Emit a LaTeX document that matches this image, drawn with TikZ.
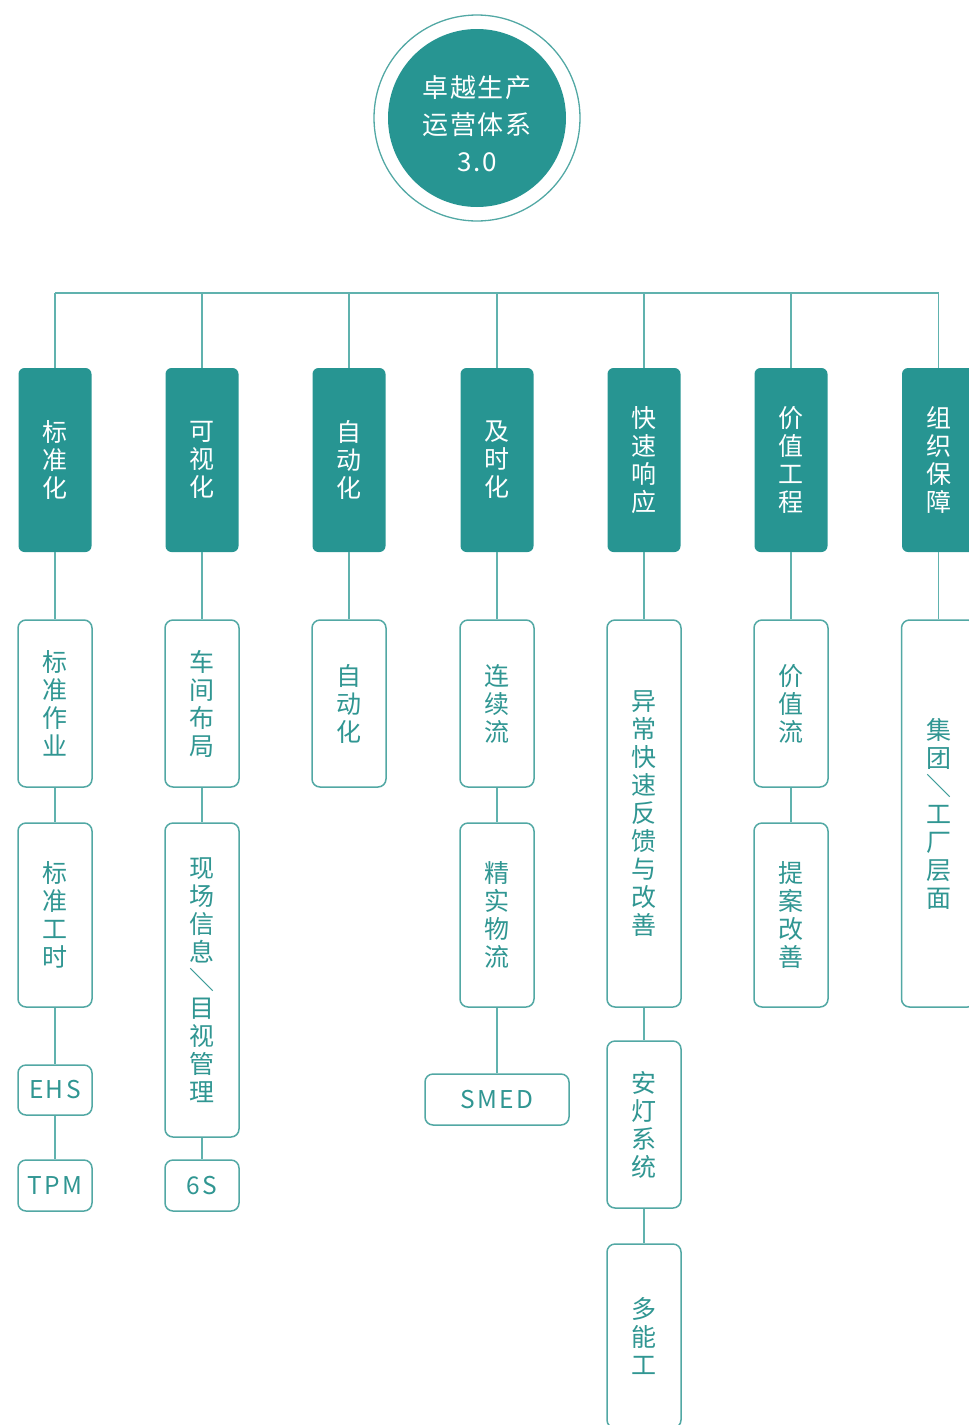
\documentclass[tikz,border=0pt]{standalone}
\usepackage{fontspec}
\newfontfamily\cjk{Noto Sans CJK SC}
\newfontfamily\cjkls[LetterSpace=6]{Noto Sans CJK SC}
\newfontfamily\latls[LetterSpace=10]{Noto Sans CJK SC}
\definecolor{tealfill}{RGB}{39,149,146}
\definecolor{tealline}{RGB}{96,178,174}
\definecolor{tealborder}{RGB}{82,168,164}
\definecolor{tealtext}{RGB}{48,150,146}
\tikzset{
  hdr/.style={rectangle, rounded corners=6pt, fill=tealfill, minimum width=73pt,
    text=white, align=center, inner sep=0pt, font={\fontsize{25}{28}\selectfont\cjk}},
  leaf/.style={rectangle, rounded corners=8pt, draw=tealborder, line width=1.5pt, fill=white,
    minimum width=74pt, text=tealtext, align=center, inner sep=0pt,
    font={\fontsize{25}{28}\selectfont\cjk}},
  latin/.style={font={\fontsize{24.5}{28}\selectfont\latls}},
  conn/.style={draw=tealline, line width=1.4pt}
}
\begin{document}
\begin{tikzpicture}[x=1pt,y=-1pt]
\useasboundingbox (0,0) rectangle (969,1425);
\clip (0,0) rectangle (969,1425);
% central circle
\node[circle, draw=tealborder, line width=1.3pt, minimum size=206pt, inner sep=0pt] (ring) at (477,118) {};
\node[circle, fill=tealfill, minimum size=178pt, inner sep=0pt] (disc) at (477,118) {};
\node[text=white, align=center, inner sep=0pt,
  font={\fontsize{26}{37}\selectfont\cjkls}] (root) at (477,124) {卓越生产\\运营体系\\3.0};
% headers
\node[hdr, minimum height=184pt] (h1) at (55,460) {标\\准\\化};
\node[hdr, minimum height=184pt] (h2) at (202,460) {可\\视\\化};
\node[hdr, minimum height=184pt] (h3) at (349,460) {自\\动\\化};
\node[hdr, minimum height=184pt] (h4) at (497,460) {及\\时\\化};
\node[hdr, minimum height=184pt] (h5) at (644,460) {快\\速\\响\\应};
\node[hdr, minimum height=184pt] (h6) at (791,460) {价\\值\\工\\程};
\node[hdr, minimum height=184pt] (h7) at (938.5,460) {组\\织\\保\\障};
% bus
\coordinate (b1) at (55,293);
\coordinate (b2) at (202,293);
\coordinate (b3) at (349,293);
\coordinate (b4) at (497,293);
\coordinate (b5) at (644,293);
\coordinate (b6) at (791,293);
\coordinate (b7) at (938.5,293);
\draw[conn] (b1) -- (b7);
\foreach \i in {1,...,7} { \draw[conn] (b\i) -- (h\i.north); }
% leaves column 1
\node[leaf, minimum height=167pt] (l1a) at (55,703.5) {标\\准\\作\\业};
\node[leaf, minimum height=184pt] (l1b) at (55,915) {标\\准\\工\\时};
\node[leaf, latin, minimum height=50pt] (l1c) at (55,1090) {EHS};
\node[leaf, latin, minimum height=51pt] (l1d) at (55,1185.5) {TPM};
% column 2
\node[leaf, minimum height=167pt] (l2a) at (202,703.5) {车\\间\\布\\局};
\node[leaf, minimum height=314pt] (l2b) at (202,980) {现\\场\\信\\息\\＼\\目\\视\\管\\理};
\node[leaf, latin, minimum height=51pt] (l2c) at (202,1185.5) {6S};
% column 3
\node[leaf, minimum height=167pt] (l3a) at (349,703.5) {自\\动\\化};
% column 4
\node[leaf, minimum height=167pt] (l4a) at (497,703.5) {连\\续\\流};
\node[leaf, minimum height=184pt] (l4b) at (497,915) {精\\实\\物\\流};
\node[leaf, latin, minimum height=51pt, minimum width=144pt] (l4c) at (497,1099.5) {SMED};
% column 5
\node[leaf, minimum height=387pt] (l5a) at (644,813.5) {异\\常\\快\\速\\反\\馈\\与\\改\\善};
\node[leaf, minimum height=167pt] (l5b) at (644,1124.5) {安\\灯\\系\\统};
\node[leaf, minimum height=184pt] (l5c) at (644,1336) {多\\能\\工};
% column 6
\node[leaf, minimum height=167pt] (l6a) at (791,703.5) {价\\值\\流};
\node[leaf, minimum height=184pt] (l6b) at (791,915) {提\\案\\改\\善};
% column 7
\node[leaf, minimum height=387pt] (l7a) at (938.5,813.5) {集\\团\\＼\\工\\厂\\层\\面};
% connectors
\draw[conn] (h1.south) -- (l1a.north);
\draw[conn] (l1a.south) -- (l1b.north);
\draw[conn] (l1b.south) -- (l1c.north);
\draw[conn] (l1c.south) -- (l1d.north);
\draw[conn] (h2.south) -- (l2a.north);
\draw[conn] (l2a.south) -- (l2b.north);
\draw[conn] (l2b.south) -- (l2c.north);
\draw[conn] (h3.south) -- (l3a.north);
\draw[conn] (h4.south) -- (l4a.north);
\draw[conn] (l4a.south) -- (l4b.north);
\draw[conn] (l4b.south) -- (l4c.north);
\draw[conn] (h5.south) -- (l5a.north);
\draw[conn] (l5a.south) -- (l5b.north);
\draw[conn] (l5b.south) -- (l5c.north);
\draw[conn] (h6.south) -- (l6a.north);
\draw[conn] (l6a.south) -- (l6b.north);
\draw[conn] (h7.south) -- (l7a.north);
\end{tikzpicture}
\end{document}
